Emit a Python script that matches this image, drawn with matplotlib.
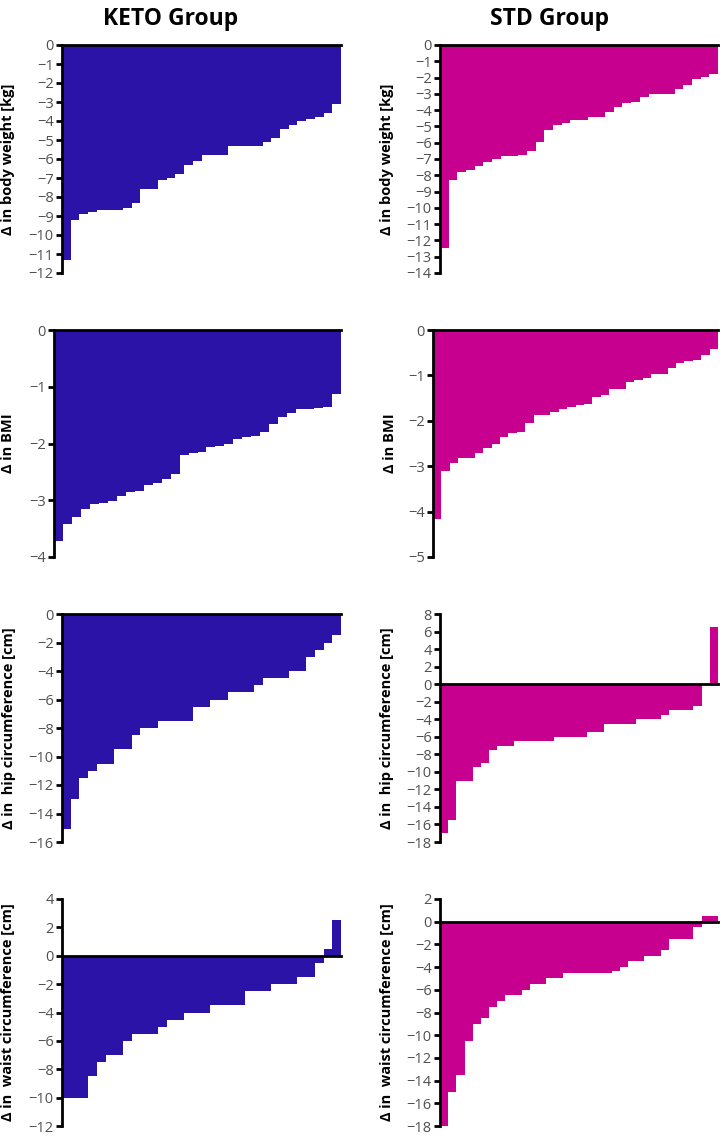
import matplotlib.pyplot as plt

plt.rcParams['font.family'] = ['Open Sans', 'DejaVu Sans']

# KETO group (sorted, per patient)
keto_weight = [-11.3, -9.2, -8.9, -8.8, -8.7, -8.7, -8.7, -8.6, -8.3, -7.6, -7.6,
               -7.1, -7.0, -6.8, -6.3, -6.1, -5.8, -5.8, -5.8, -5.3, -5.3, -5.3,
               -5.3, -5.1, -4.9, -4.4, -4.2, -4.0, -3.9, -3.8, -3.6, -3.1]
keto_bmi = [-3.71, -3.42, -3.29, -3.15, -3.07, -3.04, -3.01, -2.93, -2.86, -2.84,
            -2.74, -2.69, -2.62, -2.53, -2.21, -2.16, -2.15, -2.07, -2.04, -2.00,
            -1.92, -1.89, -1.87, -1.79, -1.66, -1.54, -1.47, -1.40, -1.39, -1.38,
            -1.35, -1.12]
keto_hip = [-15.1, -13.0, -11.5, -11.0, -10.5, -10.5, -9.5, -9.5, -8.5, -8.0, -8.0,
            -7.5, -7.5, -7.5, -7.5, -6.5, -6.5, -6.0, -6.0, -5.5, -5.5, -5.5, -5.0,
            -4.5, -4.5, -4.5, -4.0, -4.0, -3.0, -2.5, -2.0, -1.5]
keto_waist = [-10.0, -10.0, -10.0, -8.5, -7.5, -7.0, -7.0, -6.0, -5.5, -5.5, -5.5,
              -5.0, -4.5, -4.5, -4.0, -4.0, -4.0, -3.5, -3.5, -3.5, -3.5, -2.5,
              -2.5, -2.5, -2.0, -2.0, -2.0, -1.5, -1.5, -0.5, 0.5, 2.5]

# STD group
std_weight = [-12.48, -8.32, -7.80, -7.70, -7.41, -7.21, -7.00, -6.82, -6.82, -6.73,
              -6.51, -5.98, -5.20, -4.91, -4.80, -4.58, -4.58, -4.41, -4.41, -4.09,
              -3.80, -3.59, -3.47, -3.18, -3.00, -3.00, -3.00, -2.73, -2.46, -2.07,
              -1.97, -1.75]
std_bmi = [-4.17, -3.10, -2.94, -2.82, -2.81, -2.71, -2.61, -2.52, -2.35, -2.26,
           -2.24, -2.05, -1.88, -1.88, -1.80, -1.73, -1.70, -1.65, -1.63, -1.48,
           -1.44, -1.31, -1.29, -1.15, -1.11, -1.06, -0.97, -0.96, -0.84, -0.72,
           -0.69, -0.66, -0.55, -0.42]
std_hip = [-17.0, -15.5, -11.0, -11.0, -9.5, -9.0, -7.5, -7.0, -7.0, -6.5, -6.5,
           -6.5, -6.5, -6.5, -6.0, -6.0, -6.0, -6.0, -5.5, -5.5, -4.5, -4.5, -4.5,
           -4.5, -4.0, -4.0, -4.0, -3.5, -3.0, -3.0, -3.0, -2.5, 0.0, 6.5]
std_waist = [-18.0, -15.0, -13.5, -10.5, -9.0, -8.5, -7.5, -7.0, -6.5, -6.5, -6.0,
             -5.5, -5.5, -5.0, -5.0, -4.5, -4.5, -4.5, -4.5, -4.5, -4.5, -4.3,
             -4.0, -3.5, -3.5, -3.0, -3.0, -2.5, -1.5, -1.5, -1.5, -0.5, 0.5, 0.5]

keto_color = '#2C13A8'
std_color = '#C7008F'

# (data, color, ylim top, ylim bottom, tick step, label, left px, right px, top px, bottom px, label x px)
panels = [
    (keto_weight, keto_color, 0, -12, 1, 'Δ in body weight [kg]', 62, 341, 45, 273, 15),
    (std_weight, std_color, 0, -14, 1, 'Δ in body weight [kg]', 440, 718, 45, 273, 394),
    (keto_bmi, keto_color, 0, -4, 1, 'Δ in BMI', 54, 341, 330, 557, 15),
    (std_bmi, std_color, 0, -5, 1, 'Δ in BMI', 433, 718, 330, 557, 397),
    (keto_hip, keto_color, 0, -16, 2, 'Δ in  hip circumference [cm]', 62, 341, 614, 842, 16),
    (std_hip, std_color, 8, -18, 2, 'Δ in  hip circumference [cm]', 440, 718, 614, 842, 394),
    (keto_waist, keto_color, 4, -12, 2, 'Δ in  waist circumference [cm]', 62, 341, 899, 1126, 15),
    (std_waist, std_color, 2, -18, 2, 'Δ in  waist circumference [cm]', 440, 718, 899, 1126, 394),
]

W, H = 728, 1142
fig = plt.figure(figsize=(W / 100, H / 100), dpi=100)

for vals, col, top, bot, step, label, l, r, t, b, lx in panels:
    ax = fig.add_axes([l / W, 1 - b / H, (r - l) / W, (b - t) / H])
    n = len(vals)
    ax.bar(range(n), vals, width=1.0, color=col, linewidth=0)
    ax.set_xlim(-0.5, n - 0.5)
    ax.set_ylim(bot, top)
    ticks = list(range(top, bot - 1, -step))
    ax.set_yticks(ticks)
    ax.set_xticks([])
    for s in ['top', 'right']:
        ax.spines[s].set_visible(False)
    ax.spines['bottom'].set_position(('data', 0))
    ax.spines['bottom'].set_linewidth(2)
    ax.spines['left'].set_linewidth(2)
    ax.spines['bottom'].set_zorder(5)
    ax.tick_params(axis='y', direction='out', length=4, width=2,
                   labelsize=10.5, labelcolor='#505050', pad=2)
    ax.set_ylabel(label, fontsize=10.5, fontweight='bold')
    ax.yaxis.set_label_coords((lx - l) / (r - l), 0.5)

fig.text(171 / W, 1 - 19 / H, 'KETO Group', ha='center', va='center',
         fontsize=16.5, fontweight='bold')
fig.text(550 / W, 1 - 19 / H, 'STD Group', ha='center', va='center',
         fontsize=16.5, fontweight='bold')

fig.savefig('out.png', dpi=100)
